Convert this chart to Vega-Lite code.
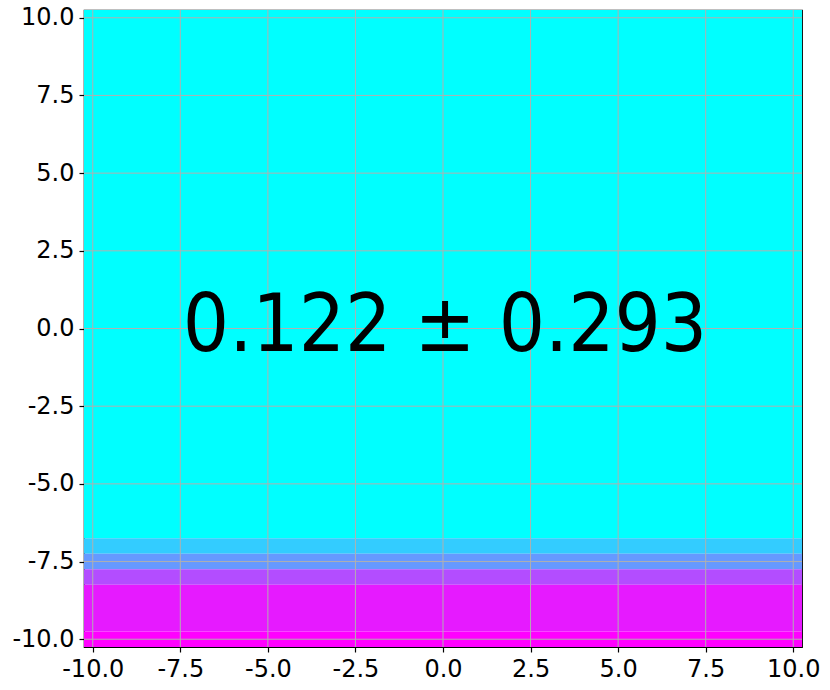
{
  "$schema": "https://vega.github.io/schema/vega-lite/v6.json",
  "width": 718,
  "height": 637,
  "autosize": "none",
  "padding": {"left": 84, "top": 10, "right": 28, "bottom": 43},
  "background": "white",
  "datasets": {
    "ticks": [{"t": -10}, {"t": -7.5}, {"t": -5}, {"t": -2.5}, {"t": 0}, {"t": 2.5}, {"t": 5}, {"t": 7.5}, {"t": 10}]
  },
  "config": {
    "view": {"stroke": "#000000", "strokeWidth": 1.2},
    "axis": {
      "labelFont": "DejaVu Sans",
      "labelFontSize": 24,
      "labelColor": "#000000",
      "tickColor": "#000000",
      "tickSize": 5,
      "tickWidth": 1.2,
      "labelPadding": 5,
      "domain": false,
      "grid": false,
      "title": null,
      "format": ".1f",
      "labelFlush": false,
      "labelOverlap": false
    }
  },
  "layer": [
    {
      "data": {"values": [
        {"x0": -10.25, "x1": 10.25, "y0": -6.75, "y1": 10.25, "v": 0.0},
        {"x0": -10.25, "x1": 10.25, "y0": -7.25, "y1": -6.75, "v": 0.2},
        {"x0": -10.25, "x1": 10.25, "y0": -7.75, "y1": -7.25, "v": 0.4},
        {"x0": -10.25, "x1": 10.25, "y0": -8.25, "y1": -7.75, "v": 0.7},
        {"x0": -10.25, "x1": 10.25, "y0": -9.75, "y1": -8.25, "v": 0.9},
        {"x0": -10.25, "x1": 10.25, "y0": -10.25, "y1": -9.75, "v": 1.0}
      ]},
      "mark": {"type": "rect", "strokeWidth": 0},
      "encoding": {
        "x": {"field": "x0", "type": "quantitative",
              "scale": {"domain": [-10.25, 10.25], "nice": false, "zero": false},
              "axis": {"values": [-10, -7.5, -5, -2.5, 0, 2.5, 5, 7.5, 10],
                       "labelExpr": "replace(datum.label, '\u2212', '-')"}},
        "x2": {"field": "x1"},
        "y": {"field": "y0", "type": "quantitative",
              "scale": {"domain": [-10.25, 10.25], "nice": false, "zero": false},
              "axis": {"values": [-10, -7.5, -5, -2.5, 0, 2.5, 5, 7.5, 10],
                       "labelExpr": "replace(datum.label, '\u2212', '-')"}},
        "y2": {"field": "y1"},
        "color": {"field": "v", "type": "quantitative",
                  "scale": {"domain": [0, 1], "range": ["#00ffff", "#ff00ff"], "interpolate": "rgb"},
                  "legend": null}
      }
    },
    {
      "data": {"name": "ticks"},
      "mark": {"type": "rule", "color": "#b0b0b0", "strokeWidth": 1},
      "encoding": {
        "x": {"field": "t", "type": "quantitative"}
      }
    },
    {
      "data": {"name": "ticks"},
      "mark": {"type": "rule", "color": "#b0b0b0", "strokeWidth": 1},
      "encoding": {
        "y": {"field": "t", "type": "quantitative"}
      }
    },
    {
      "data": {"values": [{"label": "0.122 ± 0.293", "x": 0, "y": 0}]},
      "mark": {"type": "text", "font": "DejaVu Sans Condensed, DejaVu Sans", "fontSize": 81, "color": "#000000",
               "align": "center", "baseline": "alphabetic", "dy": 22.5, "dx": 2},
      "encoding": {
        "x": {"field": "x", "type": "quantitative"},
        "y": {"field": "y", "type": "quantitative"},
        "text": {"field": "label"}
      }
    }
  ]
}
